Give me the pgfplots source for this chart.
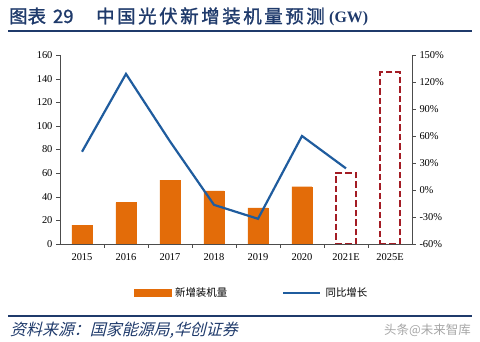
\documentclass[border=0pt]{standalone}
\usepackage{pgfplots}
\pgfplotsset{compat=1.18}
\usepackage{fontspec}
\setmainfont{Liberation Serif}
\newfontfamily\cjk{Noto Sans CJK SC}
\newfontfamily\cjkb[FakeBold=1.5]{Noto Sans CJK SC}
\newfontfamily\cjkbs[FakeBold=1.5,LetterSpace=14]{Noto Sans CJK SC}
\newfontfamily\cjkit[FakeSlant=0.25]{Noto Sans CJK SC}
\definecolor{barorange}{HTML}{E36C09}
\definecolor{lineblue}{HTML}{1F5C9E}
\definecolor{dashred}{HTML}{A31C24}
\definecolor{navy}{HTML}{1F3A6B}
\begin{document}
\begin{tikzpicture}
\path[use as bounding box] (0bp,0bp) rectangle (480bp,342bp);
% title
\node[anchor=base west, text=navy, inner sep=0] at (9bp,319bp) {\cjkb\fontsize{18.5}{20}\selectfont 图表\hspace{7bp}29};
\node[anchor=base west, text=navy, inner sep=0] at (96bp,319bp) {\cjkbs\fontsize{18.5}{20}\selectfont 中国光伏新增装机量预测};
\node[anchor=base west, text=navy, inner sep=0] at (329bp,319bp) {\fontsize{16}{18}\selectfont\bfseries (GW)};
\draw[navy, line width=2bp] (8bp,310.5bp) -- (472bp,310.5bp);
% footer
\draw[navy, line width=1.5bp] (8bp,26bp) -- (472bp,26bp);
\node[anchor=base west, text=navy, inner sep=0] at (10bp,7bp) {\cjkit\fontsize{16}{18}\selectfont 资料来源：国家能源局,华创证券};
\node[anchor=base west, text=black!35, inner sep=0] at (384bp,8bp) {\cjk\fontsize{12.5}{14}\selectfont 头条@未来智库};
\begin{axis}[
  at={(60bp,98bp)}, anchor=south west,
  scale only axis, width=352bp, height=189bp,
  xmin=-0.5, xmax=7.5, ymin=0, ymax=160,
  ytick={0,20,...,160},
  xtick={0,...,7},
  xticklabels={2015,2016,2017,2018,2019,2020,2021E,2025E},
  major tick length=4bp,
  x tick style={draw=none},
  extra x ticks={0.5,1.5,...,6.5},
  extra x tick labels={},
  extra x tick style={x tick style={draw=black!70}},
  axis x line*=bottom, axis y line*=left,
  axis line style={black!70, line width=0.8bp},
  y tick style={black!70},
  tick align=outside,
  ticklabel style={font=\fontsize{10.5}{12}\selectfont},
  /pgf/number format/assume math mode=true,
  xticklabel style={yshift=-2bp},
  ybar, bar width=20bp, bar shift=0pt,
  legend style={at={(axis description cs:0.547,-0.259)}, anchor=center, draw=none, fill=none, legend columns=2,
    font=\cjk\fontsize{10.5}{12}\selectfont,
    nodes={inner xsep=4bp},
    /tikz/every even column/.append style={column sep=51bp}},
]
\addplot[fill=barorange, draw=barorange, bar shift=0pt, legend image code/.code={\fill[barorange] (0bp,-3.5bp) rectangle (37bp,3.5bp);}]
  coordinates {(0,16) (1,35) (2,54) (3,45) (4,30.5) (5,48.5)};
\addlegendentry{新增装机量}
\addplot[fill=none, draw=dashred, bar shift=0pt, line width=2.3bp, dash pattern=on 6.5bp off 3bp, forget plot]
  coordinates {(6,60) (7,145.5)};
\addlegendimage{legend image code/.code={\draw[lineblue, line width=2.2bp] (0bp,0bp) -- (37bp,0bp);}}
\addlegendentry{同比增长}
\end{axis}
\begin{axis}[
  at={(60bp,98bp)}, anchor=south west,
  scale only axis, width=352bp, height=189bp,
  xmin=-0.5, xmax=7.5, ymin=-60, ymax=150,
  ytick={-60,-30,...,150},
  yticklabel={\pgfmathprintnumber{\tick}\%},
  axis y line*=right, axis x line=none,
  axis line style={black!70, line width=0.8bp},
  major tick length=4bp,
  y tick style={black!70},
  tick align=outside,
  ticklabel style={font=\fontsize{10.5}{12}\selectfont},
  /pgf/number format/assume math mode=true,
]
\addplot[lineblue, line width=2.2bp, mark=none]
  coordinates {(0,42.5) (1,129) (2,54) (3,-16.5) (4,-32) (5,60) (6,24)};
\end{axis}
\end{tikzpicture}
\end{document}
